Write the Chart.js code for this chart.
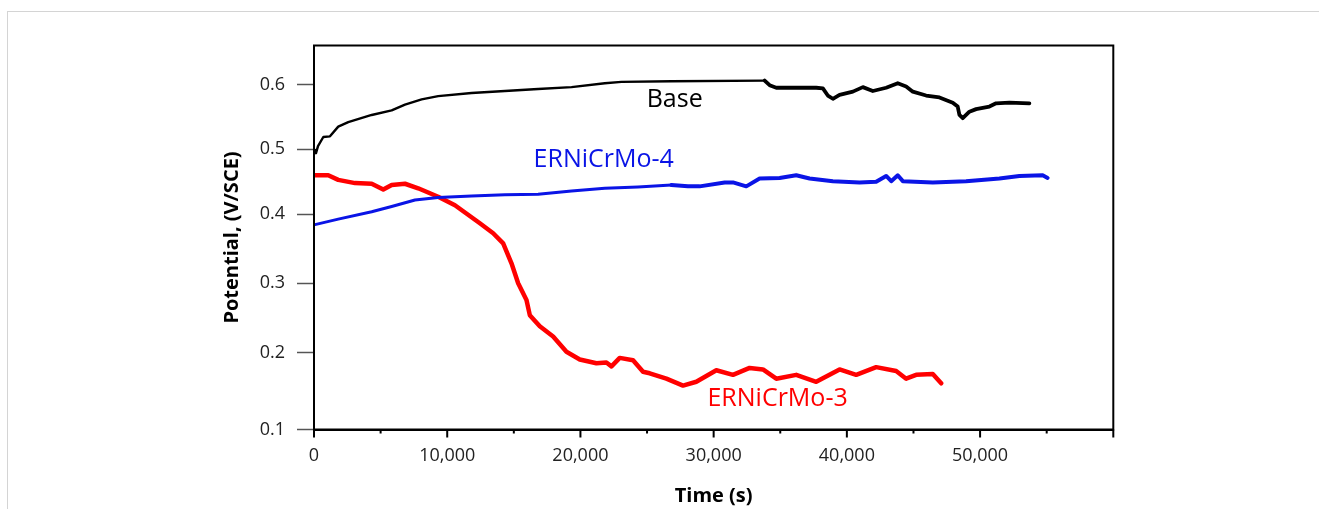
<!DOCTYPE html>
<html>
<head>
<meta charset="utf-8">
<title>Open circuit potential vs time</title>
<script src="https://cdn.jsdelivr.net/npm/chart.js@4.4.1/dist/chart.umd.min.js"></script>
<style>
    html, body { margin: 0; padding: 0; background: #fff; overflow: hidden; }
    #wrap { position: relative; width: 1319px; height: 509px; }
    #edge {
        position: absolute; left: 7px; top: 11px; width: 1400px; height: 600px;
        border-left: 1px solid #d4d4d4; border-top: 1px solid #d4d4d4;
    }
    canvas { position: absolute; left: 0; top: 0; }
</style>
</head>
<body>
<div id="wrap">
    <div id="edge"></div>
    <canvas id="ocpChart" width="1319" height="509"></canvas>
</div>
<script>
// =====================
// Data: time (s) and potential (V/SCE)
// =====================
const baseTime = [75, 150, 300, 700, 1200, 1820, 2570, 4330, 5830, 6830, 8080, 9320, 11830, 14330,
    16820, 19330, 21830, 23080, 26830, 33830, 34200, 34700, 37700, 38200, 38570, 38950, 39450,
    40450, 41200, 41950, 42950, 43820, 44450, 44950, 45950, 46950, 47950, 48320, 48450, 48700,
    49200, 49700, 50700, 51200, 52200, 53700];
const basePotential = [0.499, 0.494, 0.505, 0.519, 0.520, 0.535, 0.542, 0.553, 0.560, 0.569, 0.577,
    0.582, 0.587, 0.590, 0.593, 0.596, 0.602, 0.604, 0.605, 0.606, 0.599, 0.595, 0.595, 0.594,
    0.583, 0.578, 0.584, 0.589, 0.596, 0.590, 0.595, 0.602, 0.597, 0.589, 0.583, 0.580, 0.572,
    0.566, 0.553, 0.548, 0.558, 0.562, 0.566, 0.571, 0.572, 0.571];

const mo4Time = [75, 1820, 4330, 5830, 7580, 9320, 11830, 14330, 16820, 19330, 21830, 24320, 26830,
    28070, 28950, 30830, 31450, 32450, 33450, 34950, 36200, 37200, 38950, 40950, 42200, 42950,
    43330, 43820, 44200, 46450, 48950, 51450, 52950, 54700, 55070];
const mo4Potential = [0.385, 0.393, 0.404, 0.412, 0.422, 0.426, 0.428, 0.430, 0.431, 0.436, 0.440,
    0.442, 0.445, 0.443, 0.443, 0.449, 0.449, 0.443, 0.455, 0.456, 0.460, 0.455, 0.451, 0.449,
    0.450, 0.459, 0.451, 0.460, 0.451, 0.449, 0.451, 0.455, 0.459, 0.460, 0.456];

const mo3Time = [75, 1070, 1820, 3080, 4330, 5200, 5830, 6830, 7820, 9320, 10580, 12450, 13450,
    14200, 14825, 15325, 15950, 16200, 16950, 17950, 18950, 19950, 21200, 21950, 22330, 22950,
    23950, 24700, 25200, 26450, 27700, 28700, 30200, 31450, 32700, 33700, 34700, 36200, 37700,
    39450, 40700, 42200, 43700, 44450, 45200, 46450, 47080];
const mo3Potential = [0.460, 0.460, 0.453, 0.448, 0.447, 0.438, 0.445, 0.447, 0.440, 0.427, 0.414,
    0.387, 0.3725, 0.358, 0.329, 0.300, 0.276, 0.254, 0.238, 0.223, 0.201, 0.191, 0.186, 0.187,
    0.182, 0.193, 0.190, 0.175, 0.173, 0.166, 0.157, 0.162, 0.177, 0.171, 0.180, 0.178, 0.166,
    0.171, 0.162, 0.178, 0.171, 0.181, 0.176, 0.166, 0.171, 0.172, 0.160];

// curve names written next to each curve
const curveNames = ["Base", "ERNiCrMo-4", "ERNiCrMo-3"];
const curveNameTime = [27075, 21750, 34800];
const curveNamePotential = [0.576, 0.4835, 0.140];

const yTicks = [0.1, 0.2, 0.3, 0.4, 0.5, 0.6];

// =====================
// Potential axis: the printed axis is not evenly spaced,
// so values are mapped piecewise between the tick marks
// =====================
const warpValues = [0.1, 0.2, 0.3, 0.4, 0.5, 0.6, 0.66];
const warpFractions = [0, 0.2005, 0.3807, 0.5604, 0.7297, 0.8984, 1];

function valueToFraction(v) {
    let i = 1;
    while (i < warpValues.length - 1 && v > warpValues[i]) i++;
    const v0 = warpValues[i - 1], v1 = warpValues[i];
    const f0 = warpFractions[i - 1], f1 = warpFractions[i];
    return f0 + (v - v0) / (v1 - v0) * (f1 - f0);
}

function fractionToValue(f) {
    let i = 1;
    while (i < warpFractions.length - 1 && f > warpFractions[i]) i++;
    const v0 = warpValues[i - 1], v1 = warpValues[i];
    const f0 = warpFractions[i - 1], f1 = warpFractions[i];
    return v0 + (f - f0) / (f1 - f0) * (v1 - v0);
}

class WarpedLinearScale extends Chart.LinearScale {
    getPixelForValue(value) {
        if (value === null || value === undefined) return NaN;
        return this.getPixelForDecimal(valueToFraction(value));
    }
    getValueForPixel(pixel) {
        return fractionToValue(this.getDecimalForPixel(pixel));
    }
}
WarpedLinearScale.id = "warpedLinear";
WarpedLinearScale.defaults = Chart.LinearScale.defaults;
Chart.register(WarpedLinearScale);

const toPoints = (xs, ys) => xs.map((x, i) => ({ x: x, y: ys[i] }));

// frame around the plot, time-axis tick marks and curve names
const framePlugin = {
    id: "framePlugin",
    afterDraw(chart) {
        const ctx = chart.ctx;
        const a = chart.chartArea;
        const xs = chart.scales.x;
        const ys = chart.scales.y;
        ctx.save();
        ctx.strokeStyle = "#000";
        ctx.lineWidth = 2;
        ctx.strokeRect(a.left, a.top, a.right - a.left, a.bottom - a.top);

        xs.ticks.forEach(t => {
            const px = xs.getPixelForValue(t.value);
            const len = t.value % 10000 === 0 ? 8 : 4;
            ctx.beginPath();
            ctx.moveTo(px, a.bottom);
            ctx.lineTo(px, a.bottom + len);
            ctx.stroke();
        });

        ctx.font = "25px 'Open Sans'";
        ctx.textAlign = "center";
        ctx.textBaseline = "middle";
        curveNames.forEach((name, i) => {
            ctx.fillStyle = chart.data.datasets[i].borderColor;
            ctx.fillText(name, xs.getPixelForValue(curveNameTime[i]), ys.getPixelForValue(curveNamePotential[i]));
        });
        ctx.restore();
    }
};

Chart.defaults.font.family = "'Open Sans', 'Noto Sans', sans-serif";
Chart.defaults.color = "#222";

new Chart(document.getElementById("ocpChart"), {
    type: "line",
    data: {
        datasets: [
            {
                label: "Base",
                data: toPoints(baseTime, basePotential),
                borderColor: "#000000",
                borderWidth: 3,
                // the later, noisier part of the record is drawn heavier
                segment: { borderWidth: c => c.p0.parsed.x >= 33830 ? 3.8 : 2.4 }
            },
            {
                label: "ERNiCrMo-4",
                data: toPoints(mo4Time, mo4Potential),
                borderColor: "#0a14e6",
                borderWidth: 3.5,
                segment: { borderWidth: c => c.p0.parsed.x >= 26000 ? 4 : 3 }
            },
            {
                label: "ERNiCrMo-3",
                data: toPoints(mo3Time, mo3Potential),
                borderColor: "#ff0000",
                borderWidth: 4.5
            }
        ]
    },
    options: {
        responsive: false,
        animation: false,
        elements: {
            point: { radius: 0 },
            line: { tension: 0, borderJoinStyle: "round", borderCapStyle: "round" }
        },
        layout: { padding: { left: 220, right: 205.7, top: 45.5, bottom: 0 } },
        plugins: {
            legend: { display: false },
            tooltip: { enabled: false }
        },
        scales: {
            x: {
                type: "linear",
                min: 0,
                max: 60000,
                afterFit: scale => { scale.height = 79.5; },
                ticks: {
                    stepSize: 5000,
                    autoSkip: false,
                    maxRotation: 0,
                    padding: 16,
                    color: "#222",
                    font: { size: 18 },
                    callback: v => (v % 10000 === 0 && v < 60000) ? v.toLocaleString("en-US") : ""
                },
                grid: { drawOnChartArea: false, drawTicks: false },
                border: { color: "#000", width: 2 },
                title: {
                    display: true,
                    text: "Time (s)",
                    color: "#000",
                    font: { size: 20, weight: "bold" },
                    padding: { top: 0, bottom: 1 }
                }
            },
            y: {
                type: "warpedLinear",
                min: 0.1,
                max: 0.66,
                afterFit: scale => { scale.width = 94; },
                afterBuildTicks: scale => { scale.ticks = yTicks.map(v => ({ value: v })); },
                ticks: {
                    autoSkip: false,
                    padding: 12,
                    color: "#222",
                    font: { size: 18 },
                    callback: v => v.toFixed(1)
                },
                grid: {
                    drawOnChartArea: false,
                    tickLength: 17,
                    tickColor: "#555",
                    tickWidth: 1.5
                },
                border: { color: "#000", width: 2 },
                title: {
                    display: true,
                    text: "Potential, (V/SCE)",
                    color: "#000",
                    font: { size: 20, weight: "bold" },
                    padding: { top: 0, bottom: 0 }
                }
            }
        }
    },
    plugins: [framePlugin]
});
</script>
</body>
</html>
